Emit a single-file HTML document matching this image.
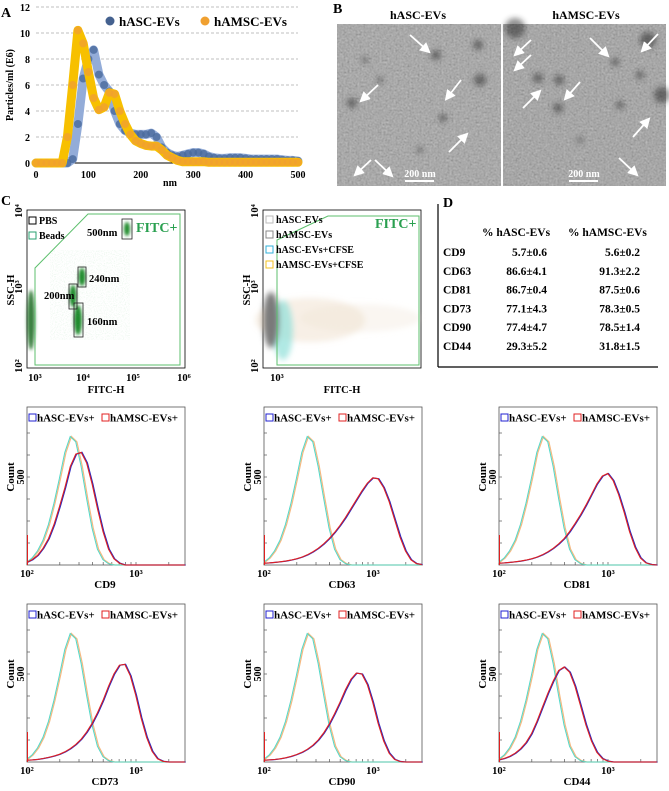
<!DOCTYPE html>
<html><head><meta charset="utf-8">
<style>
html,body{margin:0;padding:0;background:#fff;}
svg{display:block;font-family:"Liberation Serif",serif;font-weight:bold;}
</style></head>
<body>
<svg id="fig" width="669" height="791" viewBox="0 0 669 791" xmlns="http://www.w3.org/2000/svg">
<defs>
<filter id="noise" x="0" y="0" width="100%" height="100%">
<feTurbulence type="fractalNoise" baseFrequency="0.5" numOctaves="2" seed="3" result="t"/>
<feColorMatrix type="matrix" values="0.33 0.33 0.33 0 0  0.33 0.33 0.33 0 0  0.33 0.33 0.33 0 0  0 0 0 0 1" in="t" result="g"/>
<feComponentTransfer in="g"><feFuncR type="linear" slope="1.3" intercept="-0.05"/><feFuncG type="linear" slope="1.3" intercept="-0.05"/><feFuncB type="linear" slope="1.3" intercept="-0.05"/></feComponentTransfer>
</filter>
<filter id="blur3"><feGaussianBlur stdDeviation="3"/></filter>
<filter id="blur2"><feGaussianBlur stdDeviation="1.5"/></filter>
<filter id="speck" x="0" y="0" width="100%" height="100%">
<feTurbulence type="fractalNoise" baseFrequency="0.9" numOctaves="1" seed="7"/>
<feColorMatrix type="matrix" values="0 0 0 0 0.1  0 0 0 0 0.5  0 0 0 0 0.15  0 0 0 -3 1.6"/>
</filter>
<marker id="ah" markerWidth="6" markerHeight="6" refX="4" refY="3" orient="auto"><path d="M0,0 L6,3 L0,6 Z" fill="#fff"/></marker>
</defs>

<!-- Panel A -->
<g>
<text x="1" y="17" font-size="14">A</text>
<g id="aGrid"></g>
<line x1="36" y1="163" x2="298" y2="163" stroke="#000" stroke-width="1"/>
<g id="aSeries"></g>
<g>
<circle cx="110" cy="21" r="4.5" fill="#44618f"/>
<text x="119" y="26" font-size="13">hASC-EVs</text>
<circle cx="205" cy="21" r="4.5" fill="#f0a030"/>
<text x="214" y="26" font-size="13">hAMSC-EVs</text>
</g>
<text x="170" y="186" font-size="10" text-anchor="middle">nm</text>
<text transform="translate(13,85) rotate(-90)" font-size="10" text-anchor="middle">Particles/ml (E6)</text>
</g>

<!-- Panel B -->
<g>
<text x="333" y="13" font-size="14">B</text>
<text x="418" y="19" font-size="12" text-anchor="middle">hASC-EVs</text>
<text x="586" y="19" font-size="12" text-anchor="middle">hAMSC-EVs</text>
<rect x="337" y="24" width="164" height="162" fill="#8e8e8e"/>
<rect x="503" y="24" width="163" height="162" fill="#8a8a8a"/>
<rect x="337" y="24" width="164" height="162" filter="url(#noise)" opacity="0.45"/>
<rect x="503" y="24" width="163" height="162" filter="url(#noise)" opacity="0.45"/>
<g opacity="0.5" filter="url(#blur3)" fill="#222">
<circle cx="436" cy="55" r="5"/><circle cx="478" cy="45" r="5"/><circle cx="480" cy="80" r="6"/><circle cx="352" cy="103" r="5"/><circle cx="443" cy="118" r="4"/><circle cx="380" cy="80" r="3"/><circle cx="365" cy="60" r="3"/><circle cx="420" cy="150" r="3"/>
<circle cx="515" cy="28" r="10"/><circle cx="648" cy="40" r="8"/><circle cx="662" cy="95" r="8"/><circle cx="538" cy="78" r="5"/><circle cx="559" cy="80" r="5"/><circle cx="558" cy="108" r="5"/><circle cx="615" cy="62" r="4"/><circle cx="620" cy="105" r="4"/><circle cx="640" cy="75" r="4"/><circle cx="580" cy="140" r="3"/>
</g>
<g stroke="#fff" stroke-width="1.8" marker-end="url(#ah)">
<line x1="410" y1="35" x2="428" y2="51"/><line x1="378" y1="85" x2="362" y2="100"/><line x1="461" y1="80" x2="447" y2="98"/><line x1="449" y1="152" x2="466" y2="135"/><line x1="371" y1="160" x2="356" y2="174"/><line x1="375" y1="160" x2="391" y2="175"/>
<line x1="531" y1="40" x2="516" y2="54"/><line x1="531" y1="55" x2="516" y2="69"/><line x1="590" y1="38" x2="607" y2="55"/><line x1="658" y1="34" x2="643" y2="50"/><line x1="523" y1="108" x2="539" y2="92"/><line x1="580" y1="82" x2="566" y2="98"/><line x1="633" y1="137" x2="648" y2="120"/><line x1="619" y1="158" x2="636" y2="174"/>
</g>
<g>
<text x="420" y="177" font-size="10" fill="#fff" text-anchor="middle">200 nm</text>
<line x1="405" y1="181" x2="434" y2="181" stroke="#fff" stroke-width="2"/>
<text x="584" y="177" font-size="10" fill="#fff" text-anchor="middle">200 nm</text>
<line x1="569" y1="181" x2="598" y2="181" stroke="#fff" stroke-width="2"/>
</g>
</g>

<!-- Panel C scatter left -->
<g>
<text x="1" y="205" font-size="14">C</text>
<rect x="27" y="210" width="158" height="158" fill="none" stroke="#000" stroke-width="0.8"/>
<g filter="url(#blur2)">
<ellipse cx="31" cy="320" rx="4" ry="30" fill="#1a6a20" opacity="0.85"/>
<ellipse cx="73" cy="296" rx="3.5" ry="11" fill="#1f8a2a"/>
<ellipse cx="82" cy="277" rx="3.5" ry="9" fill="#1f8a2a"/>
<ellipse cx="78" cy="320" rx="4" ry="15" fill="#1f8a2a"/>
<ellipse cx="127" cy="229" rx="3" ry="7" fill="#1f8a2a"/>
</g>
<rect x="50" y="250" width="80" height="90" filter="url(#speck)" opacity="0.12"/>
<polygon points="35,365 35,268 88,214 180,214 180,365" fill="none" stroke="#5cbf6c" stroke-width="1"/>
<g fill="none" stroke="#222" stroke-width="0.8">
<rect x="69" y="284" width="8" height="25"/>
<rect x="78" y="267" width="8" height="20"/>
<rect x="74" y="303" width="9" height="34"/>
<rect x="122" y="219" width="10" height="20"/>
</g>
<g font-size="10.5">
<text x="87" y="236">500nm</text>
<text x="89" y="282">240nm</text>
<text x="44" y="299">200nm</text>
<text x="87" y="325">160nm</text>
</g>
<text x="136" y="232" font-size="14" fill="#2aa050">FITC+</text>
<rect x="29" y="217" width="7" height="7" fill="none" stroke="#000"/>
<text x="39" y="224" font-size="10">PBS</text>
<rect x="29" y="232" width="7" height="7" fill="none" stroke="#2aa070"/>
<text x="39" y="239" font-size="10">Beads</text>
<g font-size="10.5" text-anchor="middle">
<text x="35" y="381">10³</text><text x="83" y="381">10⁴</text><text x="133" y="381">10⁵</text><text x="184" y="381">10⁶</text>
</g>
<g font-size="10.5" text-anchor="middle">
<text transform="translate(22,211) rotate(-90)">10⁴</text>
<text transform="translate(22,287) rotate(-90)">10³</text>
<text transform="translate(22,366) rotate(-90)">10²</text>
</g>
<text x="106" y="393" font-size="10.5" text-anchor="middle">FITC-H</text>
<text transform="translate(14,290) rotate(-90)" font-size="10.5" text-anchor="middle">SSC-H</text>
</g>

<!-- Panel C scatter center -->
<g>
<rect x="263" y="210" width="158" height="158" fill="none" stroke="#000" stroke-width="0.8"/>
<g filter="url(#blur3)">
<ellipse cx="310" cy="320" rx="55" ry="22" fill="#e8d0b8" opacity="0.35"/>
<ellipse cx="360" cy="318" rx="60" ry="14" fill="#f0e0d0" opacity="0.3"/>
<ellipse cx="283" cy="330" rx="10" ry="30" fill="#8ee0d8" opacity="0.7"/>
<ellipse cx="271" cy="320" rx="8" ry="28" fill="#7a7a7a"/>
</g>
<polygon points="277,365 277,240 328,216 419,216 419,365" fill="none" stroke="#5cbf6c" stroke-width="1"/>
<text x="375" y="228" font-size="14" fill="#2aa050">FITC+</text>
<g font-size="10">
<rect x="266" y="216" width="7" height="7" fill="none" stroke="#bbb"/><text x="276" y="223">hASC-EVs</text>
<rect x="266" y="231" width="7" height="7" fill="none" stroke="#888"/><text x="276" y="238">hAMSC-EVs</text>
<rect x="266" y="246" width="7" height="7" fill="none" stroke="#30b0d8"/><text x="276" y="253">hASC-EVs+CFSE</text>
<rect x="266" y="261" width="7" height="7" fill="none" stroke="#f0c020"/><text x="276" y="268">hAMSC-EVs+CFSE</text>
</g>
<text x="277" y="381" font-size="10.5" text-anchor="middle">10³</text>
<g font-size="10.5" text-anchor="middle">
<text transform="translate(258,211) rotate(-90)">10⁴</text>
<text transform="translate(258,287) rotate(-90)">10³</text>
<text transform="translate(258,366) rotate(-90)">10²</text>
</g>
<text x="342" y="393" font-size="10.5" text-anchor="middle">FITC-H</text>
<text transform="translate(250,290) rotate(-90)" font-size="10.5" text-anchor="middle">SSC-H</text>
</g>

<!-- Panel D -->
<g>
<text x="443" y="207" font-size="14">D</text>
<line x1="438" y1="204" x2="438" y2="367" stroke="#000" stroke-width="1.2"/>
<line x1="438" y1="367" x2="658" y2="367" stroke="#000" stroke-width="1.2"/>
<text x="482" y="236" font-size="11.5">% hASC-EVs</text>
<text x="568" y="236" font-size="11.5">% hAMSC-EVs</text>
<g id="tbl" font-size="11.5"></g>
</g>

<g id="hists"></g>
</svg>

<script>
// ---------- Panel A data ----------
const ntaX = [0,10,20,30,40,50,60,70,80,90,100,110,120,130,140,150,160,170,180,190,200,210,220,230,240,250,260,270,280,290,300,310,320,330,340,350,360,370,380,390,400,410,420,430,440,450,460,470,480,490,500];
const hascVals = [0,0,0,0,0,0,0,0.3,3.0,6.5,8.0,8.7,6.8,6.0,5.5,4.0,3.0,2.5,2.3,2.2,2.2,2.2,2.3,2.0,1.2,0.8,0.6,0.5,0.6,0.7,0.8,0.8,0.7,0.5,0.4,0.35,0.35,0.4,0.4,0.4,0.35,0.3,0.3,0.3,0.3,0.3,0.3,0.25,0.2,0.2,0.15];
const hamscVals = [0,0,0,0,0,0,2.0,6.0,10.2,9.2,7.0,5.0,4.1,4.3,5.4,5.3,4.0,3.0,2.2,1.7,1.5,1.35,1.3,1.3,1.0,0.6,0.4,0.2,0.1,0.1,0.1,0.1,0.1,0.05,0.05,0.05,0.05,0.05,0.05,0.05,0.05,0.05,0.05,0.05,0.05,0.05,0.05,0.05,0.05,0.05,0.05];
const aYTicks = [0,2,4,6,8,10,12];
const aXTicks = [0,100,200,300,400,500];

// ---------- Panel D data ----------
const tblMarkers = ["CD9","CD63","CD81","CD73","CD90","CD44"];
const tblHasc = ["5.7±0.6","86.6±4.1","86.7±0.4","77.1±4.3","77.4±4.7","29.3±5.2"];
const tblHamsc = ["5.6±0.2","91.3±2.2","87.5±0.6","78.3±0.5","78.5±1.4","31.8±1.5"];

// ---------- Histogram data (counts on log10 grid 2.00..3.45 step 0.05) ----------
const histMarkers = ["CD9","CD63","CD81","CD73","CD90","CD44"];
const ctrlCounts = [15,40,80,140,230,350,490,640,730,700,560,380,210,90,30,8,0,0,0,0,0,0,0,0,0,0,0,0,0,0];
const cd9Counts  = [15,30,55,95,150,230,330,440,560,630,640,580,460,320,190,90,35,10,0,0,0,0,0,0,0,0,0,0,0,0];
const cd63Counts = [10,12,15,18,22,28,35,45,58,75,95,120,150,185,225,270,320,370,420,465,495,490,440,360,260,160,80,30,8,2];
const cd81Counts = [10,12,15,18,22,28,35,45,58,75,95,120,150,190,235,285,340,400,460,505,520,480,400,300,190,100,40,12,3,0];
const cd73Counts = [10,12,15,20,26,34,44,58,76,100,130,170,220,280,350,430,500,550,555,490,380,250,140,60,18,4,0,0,0,0];
const cd90Counts = [10,12,14,18,24,32,42,55,72,95,125,165,215,275,340,410,470,505,500,440,340,220,120,50,15,3,0,0,0,0];
const cd44Counts = [12,20,32,50,75,110,160,230,310,390,460,520,540,510,430,320,210,120,55,20,5,0,0,0,0,0,0,0,0,0];
const histSeries = [cd9Counts,cd63Counts,cd81Counts,cd73Counts,cd90Counts,cd44Counts];
const logStart = 2.0, logStep = 0.05;

const NS = "http://www.w3.org/2000/svg";
function mk(tag, attrs, parent){ const e=document.createElementNS(NS,tag); for(const k in attrs) e.setAttribute(k,attrs[k]); if(parent) parent.appendChild(e); return e; }

// Panel A
const ax = v => 36 + v*262/500;
const ay = v => 163 - v*156/12;
const aGrid = document.getElementById('aGrid');
aYTicks.forEach(t=>{
  if(t>0){ const l=mk('line',{x1:36,x2:298,y1:ay(t),y2:ay(t),stroke:'#aaa','stroke-dasharray':'3,2','stroke-width':0.8},aGrid);
    
     }
  const tx=mk('text',{x:30,y:ay(t)+4,'font-size':10,'text-anchor':'end'},aGrid); tx.textContent=t;
  
  
});
aXTicks.forEach(t=>{
  const tx=mk('text',{x:ax(t),y:178,'font-size':10,'text-anchor':'middle'},aGrid); tx.textContent=t;
  
  
});
const aS = document.getElementById('aSeries');
function ntaSeries(vals, band, dot, name){
  const g=mk('g',{},aS);
  
  
  const d = vals.map((v,i)=>(i?'L':'M')+ax(ntaX[i]).toFixed(1)+','+ay(v).toFixed(1)).join(' ');
  mk('path',{d:d,fill:'none',stroke:band,'stroke-width':9,'stroke-linejoin':'round','stroke-linecap':'round'},g);
  vals.forEach((v,i)=>{ const c=mk('circle',{cx:ax(ntaX[i]),cy:ay(v),r:4,fill:dot,opacity:0.8},g);
    
     });
}
ntaSeries(hascVals,'#93acd8','#4a6a9c','series-hasc-evs');
ntaSeries(hamscVals,'#f7c000','#f0a030','series-hamsc-evs');

// Panel D
const tbl=document.getElementById('tbl');
tblMarkers.forEach((m,i)=>{
  const y=256+i*18.8;
  const a=mk('text',{x:443,y:y},tbl); a.textContent=m;
  
  
  const b=mk('text',{x:547,y:y,'text-anchor':'end'},tbl); b.textContent=tblHasc[i];
  
  
  const c=mk('text',{x:640,y:y,'text-anchor':'end'},tbl); c.textContent=tblHamsc[i];
  
  
});

// Histograms
const H=document.getElementById('hists');
const lefts=[27,264,499], tops=[407,604], W=158, HT=158, DEC=109;
histMarkers.forEach((m,idx)=>{
  const L=lefts[idx%3], T=tops[Math.floor(idx/3)], B=T+HT;
  const hx = lv => L + (lv-2)*DEC;
  const hy = c => B - c*0.176;
  const g=mk('g',{},H);
  
  
  mk('rect',{x:L,y:T,width:W,height:HT,fill:'none',stroke:'#555','stroke-width':0.8},g);
  for(let k=1;k<7;k++){ mk('line',{x1:L,x2:L+3,y1:B-k*22,y2:B-k*22,stroke:'#555','stroke-width':0.7},g); }
  for(let k=1;k<=9;k++){ const x=L+Math.log10(k)*DEC; mk('line',{x1:x,x2:x,y1:B,y2:B-3,stroke:'#555','stroke-width':0.7},g); const x2=L+DEC+Math.log10(k)*DEC; if(x2<L+W) mk('line',{x1:x2,x2:x2,y1:B,y2:B-3,stroke:'#555','stroke-width':0.7},g);}
  function curve(arr,color,off,name,sw){
    const d=arr.map((c,i)=>(i?'L':'M')+(hx(logStart+i*logStep)+off).toFixed(1)+','+hy(c).toFixed(1)).join(' ');
    const p=mk('path',{d:d,fill:'none',stroke:color,'stroke-width':sw},g);
    
    
  }
  curve(ctrlCounts,'#f5b880',0.8,'control-curve-hamsc',1.2);
  curve(ctrlCounts,'#50d8c8',-0.4,'control-curve-hasc',1.0);
  curve(histSeries[idx],'#2828c0',0.5,'curve-hasc',1.2);
  curve(histSeries[idx],'#e02020',-0.3,'curve-hamsc',1.1);
  mk('line',{x1:L+0.5,x2:L+0.5,y1:B,y2:B-30,stroke:'#e02020','stroke-width':1},g);
  const lg=mk('g',{'font-size':11},g);
  
  
  mk('rect',{x:L+2,y:T+7,width:7,height:7,fill:'none',stroke:'#2020d0','stroke-width':1},lg);
  const t1=mk('text',{x:L+10,y:T+14.5},lg); t1.textContent='hASC-EVs+';
  mk('rect',{x:L+75,y:T+7,width:7,height:7,fill:'none',stroke:'#e02020','stroke-width':1},lg);
  const t2=mk('text',{x:L+83,y:T+14.5},lg); t2.textContent='hAMSC-EVs+';
  const c1=mk('text',{transform:`translate(${L-13},${B-88}) rotate(-90)`,'font-size':11,'text-anchor':'middle'},g); c1.textContent='Count';
  
  
  const c2=mk('text',{transform:`translate(${L-3},${B-88}) rotate(-90)`,'font-size':10,'text-anchor':'middle'},g); c2.textContent='500';
  
  
  const x1=mk('text',{x:L,y:B+12,'font-size':10.5,'text-anchor':'middle'},g); x1.textContent='10²';
  
  
  const x2=mk('text',{x:L+DEC,y:B+12,'font-size':10.5,'text-anchor':'middle'},g); x2.textContent='10³';
  
  
  const xt=mk('text',{x:L+78,y:B+23,'font-size':11,'text-anchor':'middle'},g); xt.textContent=m;
  
  
});
</script>
</body></html>
